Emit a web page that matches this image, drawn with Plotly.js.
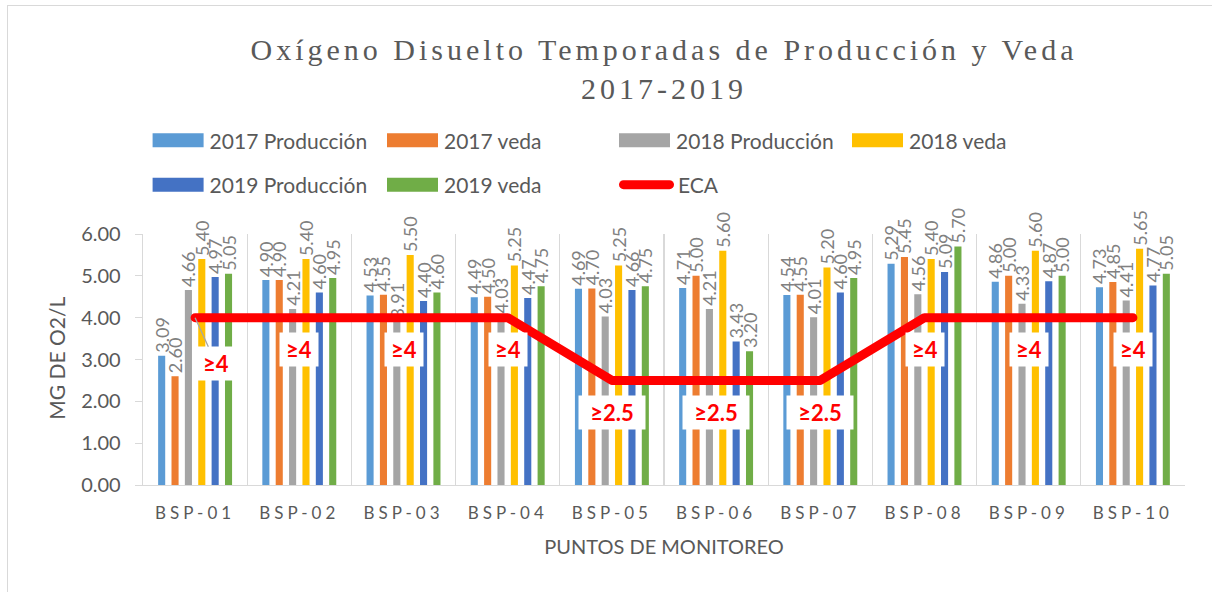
<!DOCTYPE html>
<html><head><meta charset="utf-8">
<script src="https://cdn.plot.ly/plotly-3.0.1.min.js"></script>
<style>
body{margin:0;background:#fff;}
#wrap{position:relative;width:1212px;height:592px;overflow:hidden;}
#chart{width:1212px;height:592px;}
#frame{position:absolute;left:7px;top:5px;width:1300px;height:700px;border-left:1px solid #d9d9d9;border-top:1px solid #d9d9d9;pointer-events:none;}
.gtitle{letter-spacing:4px;}
.xtick text{letter-spacing:4px;}
.js-line{stroke-linecap:round !important;stroke-linejoin:round !important;}
</style></head>
<body><div id="wrap"><div id="chart"></div><div id="frame"></div></div>
<script>
const categories = ['BSP-01','BSP-02','BSP-03','BSP-04','BSP-05','BSP-06','BSP-07','BSP-08','BSP-09','BSP-10'];
const prod2017 = [3.09,4.90,4.53,4.49,4.69,4.71,4.54,5.29,4.86,4.73];
const veda2017 = [2.60,4.90,4.55,4.50,4.70,5.00,4.55,5.45,5.00,4.85];
const prod2018 = [4.66,4.21,3.91,4.03,4.03,4.21,4.01,4.56,4.33,4.41];
const veda2018 = [5.40,5.40,5.50,5.25,5.25,5.60,5.20,5.40,5.60,5.65];
const prod2019 = [4.97,4.60,4.40,4.47,4.66,3.43,4.60,5.09,4.87,4.77];
const veda2019 = [5.05,4.95,4.60,4.75,4.75,3.20,4.95,5.70,5.00,5.05];
const eca = [4,4,4,4,2.5,2.5,2.5,4,4,4];
const ecaLabels = ['≥4','≥4','≥4','≥4','≥2.5','≥2.5','≥2.5','≥4','≥4','≥4'];
const seriesNames = ['2017 Producción','2017 veda','2018 Producción','2018 veda','2019 Producción','2019 veda'];
const ecaName = 'ECA';
const titleText = 'Oxígeno Disuelto Temporadas de Producción y Veda<br>2017-2019';
const xTitle = 'PUNTOS DE MONITOREO';
const yTitle = 'MG DE O2/L';

const seriesValues = [prod2017, veda2017, prod2018, veda2018, prod2019, veda2019];
const colors = ['#5B9BD5','#ED7D31','#A5A5A5','#FFC000','#4472C4','#70AD47'];
const legendIds = ['legend','legend2','legend3','legend4','legend5','legend6'];
const FONT = 'Lato, "Open Sans", sans-serif';
const GRAY = '#595959';

const traces = seriesValues.map((vals, i) => ({
  type: 'bar', name: seriesNames[i], x: categories, y: vals,
  marker: {color: colors[i]},
  text: vals.map(v => v.toFixed(2)),
  textposition: 'outside', textangle: -90, constraintext: 'none', cliponaxis: false,
  textfont: {family: FONT, size: 18, color: '#808080'},
  outsidetextfont: {family: FONT, size: 18, color: '#808080'},
  legend: legendIds[i]
}));
traces.push({
  type: 'scatter', mode: 'lines', name: ecaName, x: categories, y: eca,
  line: {color: '#FF0000', width: 9}, legend: 'legend7', cliponaxis: false
});

// legend item placement (container pixels)
const legendPos = [[147.6,140.7,52],[382,140.7,52],[614,140.7,52],[847,140.7,52],
                   [147.6,185,52],[382,185,52],[614,185,54]];

const annotations = categories.map((c, i) => {
  const a = {x: c, y: eca[i] - 0.77, xref: 'x', yref: 'y', text: '<b>' + ecaLabels[i] + '</b>',
    showarrow: false, bgcolor: '#ffffff', borderpad: 4,
    width: ecaLabels[i].length > 2 ? 58 : 30, height: 25,
    font: {family: 'Lato, sans-serif', size: 22, color: '#FF0000'}};
  if (i === 0) {
    Object.assign(a, {y: eca[i], showarrow: true, arrowhead: 0, arrowwidth: 1.3, arrowcolor: '#a6a6a6', ax: 21, ay: 46});
  }
  return a;
});
// y-axis title
annotations.push({text: yTitle, textangle: -90, xref: 'paper', yref: 'paper',
  x: -0.083, y: 0.505, xanchor: 'center', yanchor: 'middle', showarrow: false,
  font: {family: FONT, size: 21, color: GRAY}});

const layout = {
  width: 1212, height: 592,
  margin: {l: 143, r: 27, t: 234, b: 107, autoexpand: false},
  paper_bgcolor: '#fff', plot_bgcolor: '#fff',
  barmode: 'group', bargap: 0.23, bargroupgap: 0.47,
  title: {text: titleText, x: 664/1212, xanchor: 'center', xref: 'container',
          y: 1 - 60/592, yanchor: 'top', yref: 'container',
          font: {family: '"Liberation Serif", "Times New Roman", serif', size: 30, color: GRAY}},
  xaxis: {type: 'category', tickson: 'boundaries', showgrid: true, gridcolor: '#d9d9d9', gridwidth: 1.3,
          showline: true, linecolor: '#d9d9d9', linewidth: 1.3, ticks: '',
          tickfont: {family: FONT, size: 17, color: GRAY}, ticklabelstandoff: 12,
          title: {text: xTitle, font: {family: FONT, size: 20, color: GRAY}, standoff: 18}},
  yaxis: {range: [0, 6], dtick: 1, tickformat: '.2f', showgrid: false, zeroline: false,
          showline: true, linecolor: '#d9d9d9', linewidth: 1.3, ticks: 'outside', ticklen: 7, tickcolor: '#d9d9d9',
          tickfont: {family: FONT, size: 20, color: GRAY}, ticklabelstandoff: 10},
  annotations: annotations,
  hovermode: false,
  showlegend: true
};
legendPos.forEach((p, i) => {
  const id = i === 0 ? 'legend' : 'legend' + (i + 1);
  layout[id] = {x: p[0]/1212, xref: 'container', xanchor: 'left',
                y: 1 - p[1]/592, yref: 'container', yanchor: 'middle',
                bgcolor: 'rgba(0,0,0,0)', borderwidth: 0, itemwidth: p[2],
                font: {family: FONT, size: 21, color: GRAY}};
});

Plotly.newPlot('chart', traces, layout, {displayModeBar: false, staticPlot: true}).then(gd => {
  gd.querySelectorAll('g.legendpoints').forEach(g => {
    g.querySelectorAll('path').forEach(p => {
      const d = p.getAttribute('d') || '';
      if (d.indexOf('H-6') >= 0) {
        p.setAttribute('d', 'M5,-7h51v14h-51z');
        p.setAttribute('transform', 'translate(0,0)');
      }
    });
  });
  gd.querySelectorAll('g.legendlines path').forEach(p => {
    p.setAttribute('d', 'M9.5,0H55.5');
  });
});
</script>
</body></html>
